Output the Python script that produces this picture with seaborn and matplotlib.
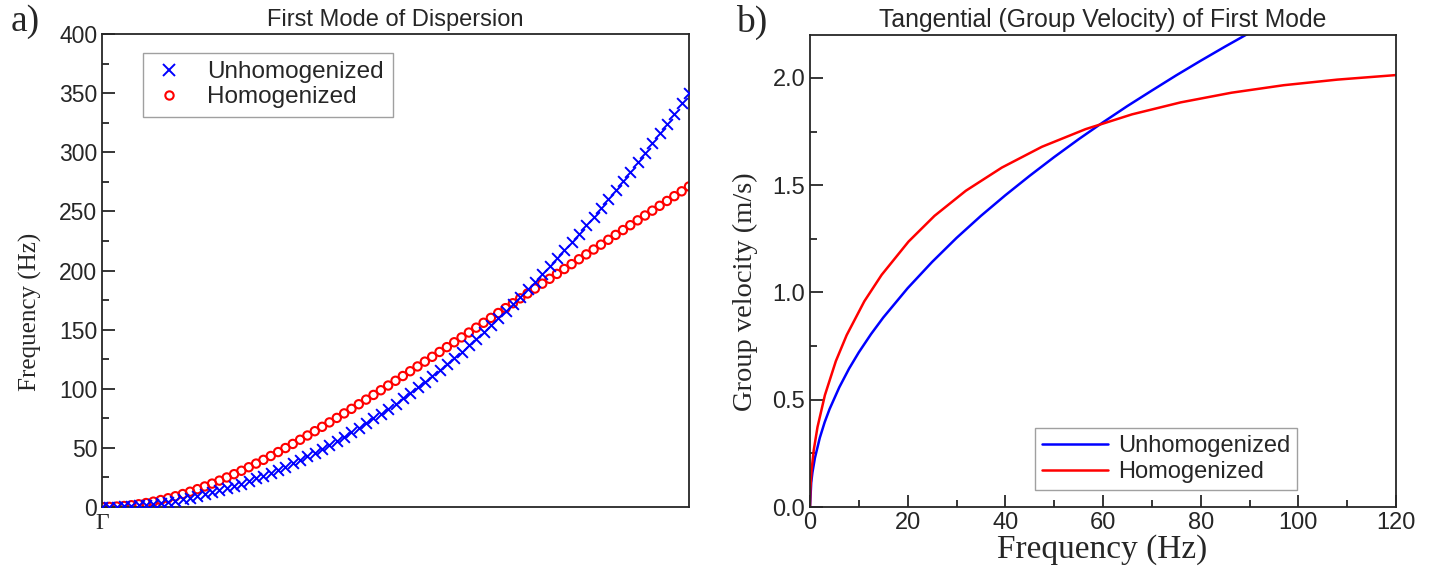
import numpy as np
import pandas as pd
import seaborn as sns
import matplotlib.pyplot as plt
from matplotlib import font_manager
from matplotlib.lines import Line2D
from matplotlib.ticker import MultipleLocator

# a) first mode of dispersion, Gamma -> edge, 81 wave-number steps
k_steps = list(range(81))
freq_unhomog = [0.0, 0.05, 0.22, 0.49, 0.88, 1.37, 1.97, 2.68, 3.50, 4.43,
                5.47, 6.62, 7.88, 9.24, 10.72, 12.30, 14.00, 15.80, 17.72, 19.74,
                21.88, 24.12, 26.47, 28.93, 31.50, 34.18, 36.97, 39.87, 42.88, 45.99,
                49.22, 52.55, 56.00, 59.55, 63.22, 66.99, 70.88, 74.87, 78.97, 83.18,
                87.50, 91.93, 96.47, 101.12, 105.88, 110.74, 115.72, 120.80, 126.00, 131.30,
                136.72, 142.24, 147.88, 153.62, 159.47, 165.43, 171.50, 177.68, 183.97, 190.37,
                196.88, 203.49, 210.22, 217.05, 224.00, 231.05, 238.22, 245.49, 252.88, 260.37,
                267.97, 275.68, 283.50, 291.43, 299.47, 307.62, 315.87, 324.24, 332.72, 341.30,
                350.00]
freq_homog = [0.0, 0.09, 0.37, 0.84, 1.49, 2.33, 3.34, 4.53, 5.89, 7.41,
              9.10, 10.95, 12.94, 15.09, 17.37, 19.78, 22.32, 24.98, 27.76, 30.64,
              33.63, 36.71, 39.87, 43.13, 46.46, 49.86, 53.33, 56.87, 60.46, 64.11,
              67.81, 71.55, 75.33, 79.15, 83.01, 86.90, 90.82, 94.77, 98.73, 102.73,
              106.73, 110.76, 114.81, 118.86, 122.93, 127.02, 131.11, 135.20, 139.31, 143.42,
              147.54, 151.66, 155.79, 159.92, 164.05, 168.18, 172.32, 176.45, 180.58, 184.72,
              188.85, 192.98, 197.12, 201.24, 205.37, 209.50, 213.62, 217.74, 221.86, 225.98,
              230.09, 234.20, 238.31, 242.42, 246.51, 250.61, 254.71, 258.80, 262.88, 266.97,
              271.05]

# b) group velocity vs frequency
f_unhomog = [0, 0.25, 0.5, 1, 2, 3, 4, 6, 8, 10, 12.5, 15, 20, 25, 30, 35, 40, 45,
             50, 55, 60, 65, 70, 75, 80, 85, 90, 92]
vg_unhomog = [0.0, 0.114, 0.161, 0.228, 0.322, 0.395, 0.456, 0.558, 0.645, 0.721,
              0.806, 0.883, 1.020, 1.142, 1.254, 1.357, 1.453, 1.544, 1.631, 1.714,
              1.793, 1.869, 1.941, 2.012, 2.080, 2.146, 2.210, 2.236]
f_homog = [0, 0.077, 0.307, 0.767, 1.531, 3.047, 5.293, 7.507, 11.129, 14.669,
           20.173, 25.494, 31.906, 39.283, 47.493, 56.412, 65.922, 75.919, 86.309,
           97.015, 107.97, 119.89, 120.66]
vg_homog = [0.0, 0.084, 0.168, 0.265, 0.372, 0.521, 0.680, 0.801, 0.959, 1.082,
            1.237, 1.357, 1.474, 1.582, 1.679, 1.761, 1.830, 1.886, 1.931,
            1.966, 1.992, 2.013, 2.015]

sns.set_style("ticks")
installed = {f.name for f in font_manager.fontManager.ttflist}
sans = "Liberation Sans"
narrow = "Liberation Sans Narrow" if "Liberation Sans Narrow" in installed else sans
serif = "Liberation Serif"
plt.rcParams["font.family"] = [sans, "DejaVu Sans"]
plt.rcParams["axes.linewidth"] = 1.3

fig = plt.figure(figsize=(14.47, 5.79), dpi=100)
ax1 = fig.add_axes([102 / 1447, 72 / 579, 587 / 1447, 473 / 579])
ax2 = fig.add_axes([810 / 1447, 72 / 579, 586 / 1447, 472 / 579])

# ---- panel a
df_a = pd.DataFrame({"k": np.array(k_steps) / k_steps[-1],
                     "unhomog": freq_unhomog, "homog": freq_homog})
sns.scatterplot(data=df_a, x="k", y="unhomog", ax=ax1, marker="x", s=60,
                color="#0000ff", linewidth=1.4, zorder=3)
sns.scatterplot(data=df_a, x="k", y="homog", ax=ax1, marker="o", s=36,
                facecolor="none", edgecolor="#ff0000", linewidth=1.5, zorder=2)
ax1.set_xlim(0, 1)
ax1.set_ylim(0, 400)
ax1.set_xlabel("")
ax1.set_ylabel("")
ax1.set_xticks([0])
ax1.set_xticklabels(["Γ"], family=serif, fontsize=17)
ax1.tick_params(axis="x", length=0, pad=4)
ax1.yaxis.set_major_locator(MultipleLocator(50))
ax1.yaxis.set_minor_locator(MultipleLocator(25))
ax1.tick_params(axis="y", which="major", direction="in", length=9, width=1.3, labelsize=16.5)
ax1.tick_params(axis="y", which="minor", direction="in", length=5, width=1.3)
ax1.set_title("First Mode of Dispersion", fontsize=17, pad=6)
handles_a = [Line2D([], [], ls="", marker="x", color="#0000ff", ms=8, mew=1.4),
             Line2D([], [], ls="", marker="o", mfc="none", mec="#ff0000", ms=6, mew=1.5)]
leg1 = ax1.legend(handles_a, ["Unhomogenized", "Homogenized"], loc="upper left",
                  bbox_to_anchor=(0.07, 0.96), borderaxespad=0, fontsize=17.5,
                  frameon=True, fancybox=False, edgecolor="#888888",
                  handlelength=1.4, handletextpad=0.9, borderpad=0.35, labelspacing=0.12)
leg1.get_frame().set_linewidth(1.0)

# ---- panel b
df_u = pd.DataFrame({"f": f_unhomog, "vg": vg_unhomog})
df_h = pd.DataFrame({"f": f_homog, "vg": vg_homog})
sns.lineplot(data=df_u, x="f", y="vg", ax=ax2, color="#0000ff", linewidth=1.8,
             sort=False, estimator=None)
sns.lineplot(data=df_h, x="f", y="vg", ax=ax2, color="#ff0000", linewidth=1.8,
             sort=False, estimator=None)
ax2.set_xlim(0, 120)
ax2.set_ylim(0, 2.2)
ax2.set_xlabel("")
ax2.set_ylabel("")
ax2.xaxis.set_major_locator(MultipleLocator(20))
ax2.xaxis.set_minor_locator(MultipleLocator(10))
ax2.yaxis.set_major_locator(MultipleLocator(0.5))
ax2.yaxis.set_minor_locator(MultipleLocator(0.25))
ax2.yaxis.set_major_formatter(plt.FormatStrFormatter("%.1f"))
ax2.tick_params(which="major", direction="in", length=9, width=1.3, labelsize=17)
ax2.tick_params(which="minor", direction="in", length=5, width=1.3)
for lab in ax2.get_xticklabels() + ax2.get_yticklabels():
    lab.set_family([narrow, "DejaVu Sans"])
ax2.set_title("Tangential (Group Velocity) of First Mode", fontsize=17.8,
              family=[narrow, "DejaVu Sans"], pad=6)
handles_b = [Line2D([], [], color="#0000ff", lw=1.8), Line2D([], [], color="#ff0000", lw=1.8)]
leg2 = ax2.legend(handles_b, ["Unhomogenized", "Homogenized"], loc="lower left",
                  bbox_to_anchor=(0.384, 0.036), borderaxespad=0,
                  prop={"family": [narrow, "DejaVu Sans"], "size": 17},
                  frameon=True, fancybox=False, edgecolor="#888888",
                  handlelength=2.8, handletextpad=0.4, borderpad=0.3, labelspacing=0.15)
leg2.get_frame().set_linewidth(1.0)

# axis labels and panel letters
fig.text(30 / 1447, 1 - 312 / 579, "Frequency (Hz)", rotation=90, ha="center",
         va="center", family=serif, fontsize=18)
fig.text(745 / 1447, 1 - 292 / 579, "Group velocity (m/s)", rotation=90, ha="center",
         va="center", family=serif, fontsize=20.5)
fig.text(1102 / 1447, 1 - 550 / 579, "Frequency (Hz)", ha="center", va="center",
         family=serif, fontsize=24)
fig.text(25 / 1447, 1 - 22 / 579, "a)", ha="center", va="center", family=serif, fontsize=27)
fig.text(752 / 1447, 1 - 22 / 579, "b)", ha="center", va="center", family=serif, fontsize=27)

fig.savefig("out.png", dpi=100)
